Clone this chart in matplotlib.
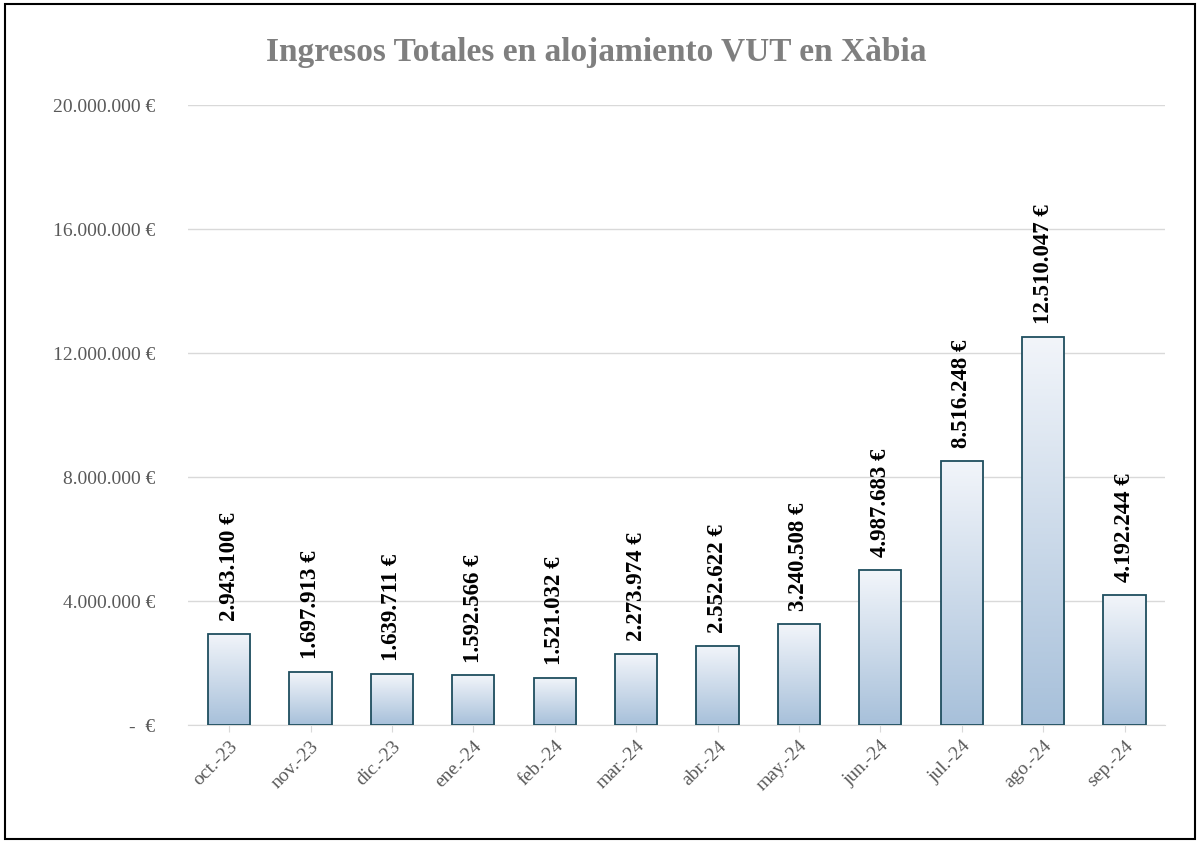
import matplotlib
matplotlib.use("Agg")
import matplotlib.pyplot as plt
import numpy as np
from matplotlib.patches import Rectangle
from matplotlib.colors import LinearSegmentedColormap

months = ["oct.-23","nov.-23","dic.-23","ene.-24","feb.-24","mar.-24","abr.-24","may.-24","jun.-24","jul.-24","ago.-24","sep.-24"]
values = [2943100,1697913,1639711,1592566,1521032,2273974,2552622,3240508,4987683,8516248,12510047,4192244]
yticks = [0,4000000,8000000,12000000,16000000,20000000]

def fmt(v):
    return f"{v:,}".replace(",", ".") + " €"

plt.rcParams["font.family"] = "Liberation Serif"
fig = plt.figure(figsize=(12, 8.45), dpi=100)
ax = fig.add_axes([0.157, 0.141, 0.814, 0.7336])
x = np.arange(len(months))
w = 0.52
bars = ax.bar(x, values, width=w, color="none", edgecolor="#1f4e5f", linewidth=1.3, zorder=3)
grad = np.linspace(0, 1, 256).reshape(-1, 1)
cmap = LinearSegmentedColormap.from_list("g", ["#a7c0da", "#f2f5fa"])
for b in bars:
    im = ax.imshow(grad, extent=[b.get_x(), b.get_x()+w, 0, b.get_height()], origin="lower",
                   cmap=cmap, aspect="auto", zorder=2)
    im.set_clip_path(b)
for xi, v in zip(x, values):
    ax.text(xi, v + 450000, fmt(v), rotation=90, ha="center", va="bottom",
            fontsize=16.5, fontweight="bold", color="black", zorder=4)
ax.set_xlim(-0.5, len(months)-0.5)
ax.set_ylim(0, 20000000)
ax.set_yticks(yticks)
ax.set_yticklabels(["-  €"] + [fmt(t) for t in yticks[1:]], fontsize=14, color="#595959")
ax.set_xticks(x)
ax.set_xticklabels(months, rotation=45, ha="right", rotation_mode="anchor", fontsize=14, color="#595959")
ax.grid(axis="y", color="#d9d9d9", linewidth=1, zorder=0)
for s in ["top", "right", "left"]:
    ax.spines[s].set_visible(False)
ax.spines["bottom"].set_color("#d9d9d9")
ax.tick_params(axis="y", length=0, pad=24)
ax.tick_params(axis="x", length=5, color="#d9d9d9")
fig.text(0.497, 0.938, "Ingresos Totales en alojamiento VUT en Xàbia", ha="center", va="center",
         fontsize=24, fontweight="bold", color="#7f7f7f")
fig.add_artist(Rectangle((0.004, 0.006), 0.992, 0.988, transform=fig.transFigure,
                         fill=False, edgecolor="black", linewidth=1.5))
fig.savefig("out.png", dpi=100)
